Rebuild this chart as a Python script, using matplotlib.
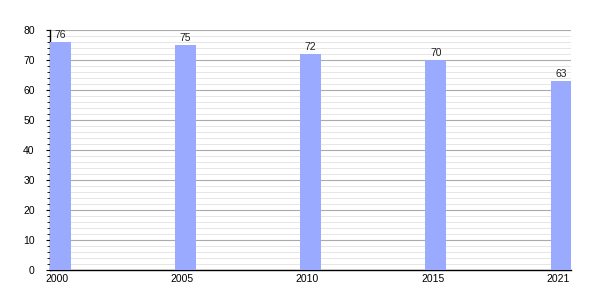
import matplotlib.pyplot as plt
import numpy as np
from matplotlib.ticker import MultipleLocator

years = ["2000", "2005", "2010", "2015", "2021"]
values = [76, 75, 72, 70, 63]

plt.rcParams["font.family"] = ["Liberation Sans", "DejaVu Sans"]

fig = plt.figure(figsize=(6, 3), dpi=100)
ax = fig.add_axes([0.0833, 0.1, 0.8687, 0.8])

xs = np.arange(len(years))
w = 0.165
ax.bar(xs, values, width=w, align="edge", color="#99aaff", zorder=3)
for x, v in zip(xs, values):
    ax.text(x + w / 2, v + 0.8, str(v), ha="center", va="bottom", fontsize=7.5, color="#222222")

ax.set_xlim(0, len(years) - 1 + w)
ax.set_ylim(0, 80)
ax.yaxis.set_major_locator(MultipleLocator(10))
ax.yaxis.set_minor_locator(MultipleLocator(2))
ax.grid(which="major", axis="y", color="#aaaaaa", linewidth=0.8, zorder=0)
ax.grid(which="minor", axis="y", color="#e2e2e2", linewidth=0.6, zorder=0)
ax.set_xticks(xs + w * 0.35)
ax.set_xticklabels(years)
ax.tick_params(axis="x", length=0, labelsize=7.5, pad=3)
ax.tick_params(axis="y", which="major", length=3, labelsize=7.5, pad=8)
ax.tick_params(axis="y", which="minor", length=2)
for s in ["top", "right"]:
    ax.spines[s].set_visible(False)
ax.spines["left"].set_linewidth(1)
ax.spines["bottom"].set_linewidth(1)

fig.savefig("out.png", dpi=100)
